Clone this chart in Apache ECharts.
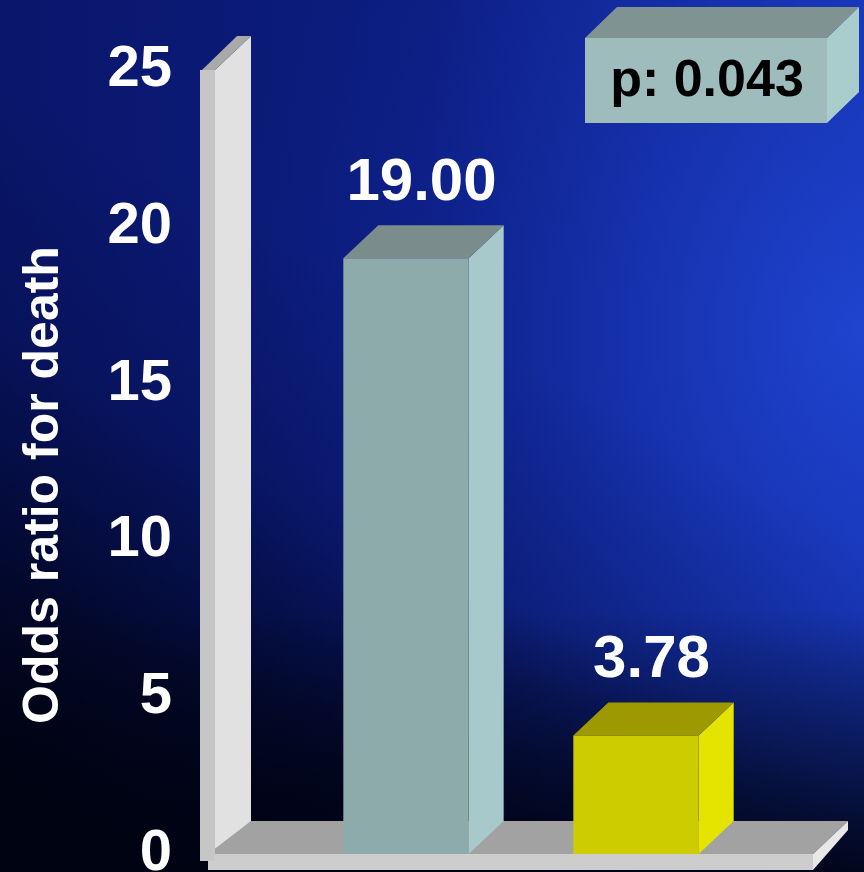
<!DOCTYPE html>
<html>
<head>
<meta charset="utf-8">
<title>Odds ratio for death</title>
<script src="https://cdn.jsdelivr.net/npm/echarts@6.0.0/dist/echarts.min.js"></script>
<style>
  html, body { margin: 0; padding: 0; background: #000; }
  #chart { width: 864px; height: 872px; }
</style>
</head>
<body>
<div id="chart"></div>
<script>
// ---- data ----
const categories = ['Group 1', 'Group 2'];
const oddsRatios = [19.00, 3.78];
const yTicks = [0, 5, 10, 15, 20, 25];
const yTitle = 'Odds ratio for death';
const pValueText = 'p: 0.043';

// ---- styling ----
const FONT = '"Liberation Sans", Arial, Helvetica, sans-serif';
const DEPTH = [35, -33];               // 3D offset of the back faces
const barFaces = [
  { front: '#8eabab', side: '#a8c9cb', top: '#7a8d8c' },
  { front: '#cccc00', side: '#e4e400', top: '#9c9a00' }
];

const chart = echarts.init(document.getElementById('chart'));

// walls and floor of the 3D plot area, tied to the value axis extent
function renderFrame(params, api) {
  const yMax = yTicks[yTicks.length - 1];
  const y0 = api.coord([0, 0])[1];
  const yTop = api.coord([0, yMax])[1];
  const gx = params.coordSys.x;
  const gr = params.coordSys.x + params.coordSys.width;
  const [dx, dy] = DEPTH;
  const wallL = gx - 91, wallM = gx - 76, wallR = wallM + dx + 1;
  const floorL = gx - 83, floorR = gr + 62;
  const floorBottom = y0 + 16;
  return {
    type: 'group',
    children: [
      // wall side face
      { type: 'polygon', shape: { points: [[wallM, yTop], [wallR, yTop + dy - 1], [wallR, y0 + dy + 8], [wallM, y0 + 6]] },
        style: { fill: '#e1e1e1' } },
      // floor top surface
      { type: 'polygon', shape: { points: [[floorL, y0], [floorR, y0], [floorR + dx, y0 + dy], [wallR, y0 + dy]] },
        style: { fill: '#a2a2a2' } },
      // floor front face
      { type: 'rect', shape: { x: floorL, y: y0, width: floorR - floorL, height: floorBottom - y0 },
        style: { fill: '#cdcdcd' } },
      // floor right face
      { type: 'polygon', shape: { points: [[floorR, y0], [floorR + dx, y0 + dy], [floorR + dx, y0 + dy + 9], [floorR, floorBottom]] },
        style: { fill: '#e8e8e8' } },
      // wall top cap
      { type: 'polygon', shape: { points: [[wallL + 2, yTop], [wallM, yTop], [wallR, yTop + dy - 1], [wallR - 14, yTop + dy - 1]] },
        style: { fill: '#a9a9a9' } },
      // wall front edge
      { type: 'rect', shape: { x: wallL, y: yTop, width: wallM - wallL, height: y0 + 7 - yTop },
        style: { fill: '#c6c6c6' } }
    ]
  };
}

// one 3D box per category, height from the value axis
function renderBar(params, api) {
  const idx = api.value(0);
  const val = api.value(1);
  const top = api.coord([idx, val]);
  const base = api.coord([idx, 0]);
  const w = api.size([1, 0])[0] * 0.545;
  const x0 = top[0] - w / 2, x1 = top[0] + w / 2;
  const yt = top[1], yb = base[1];
  const [dx, dy] = DEPTH;
  const c = barFaces[params.dataIndex];
  return {
    type: 'group',
    children: [
      { type: 'polygon', shape: { points: [[x1, yt], [x1 + dx, yt + dy], [x1 + dx, yb + dy], [x1, yb]] },
        style: { fill: c.side } },
      { type: 'polygon', shape: { points: [[x0, yt], [x1, yt], [x1 + dx, yt + dy], [x0 + dx, yt + dy]] },
        style: { fill: c.top } },
      { type: 'rect', shape: { x: x0, y: yt, width: w, height: yb - yt },
        style: { fill: c.front } },
      { type: 'text',
        style: { text: val.toFixed(2), x: top[0] + dx / 2 - 2, y: yt + dy - 42,
                 fill: '#ffffff', font: 'bold 60px ' + FONT,
                 align: 'center', verticalAlign: 'middle',
                 textAlign: 'center', textVerticalAlign: 'middle' } }
    ]
  };
}

const option = {
  animation: false,
  backgroundColor: {
    type: 'linear', x: 0, y: 0, x2: 1, y2: 0,
    colorStops: [
      { offset: 0, color: '#09166a' },
      { offset: 0.5, color: '#0c1d80' },
      { offset: 1, color: '#1838b8' }
    ]
  },
  graphic: [
    // bright glow at the right edge
    { type: 'rect', z: -10, silent: true,
      shape: { x: 0, y: 0, width: 864, height: 872 },
      style: { fill: { type: 'radial', x: 1.0, y: 0.38, r: 0.75,
        colorStops: [
          { offset: 0, color: 'rgba(34,72,215,0.75)' },
          { offset: 0.5, color: 'rgba(25,55,190,0.3)' },
          { offset: 1, color: 'rgba(20,40,160,0)' }
        ] } } },
    // darkening towards the lower left
    { type: 'rect', z: -9, silent: true,
      shape: { x: 0, y: 0, width: 864, height: 872 },
      style: { fill: { type: 'linear', x: 0.15, y: 1, x2: 0.5, y2: 0.35,
        colorStops: [
          { offset: 0, color: 'rgba(0,2,12,0.98)' },
          { offset: 0.3, color: 'rgba(0,3,20,0.75)' },
          { offset: 0.65, color: 'rgba(0,5,30,0.2)' },
          { offset: 1, color: 'rgba(0,5,30,0)' }
        ] } } },
    // darkening along the bottom edge
    { type: 'rect', z: -8, silent: true,
      shape: { x: 0, y: 0, width: 864, height: 872 },
      style: { fill: { type: 'linear', x: 0, y: 0, x2: 0, y2: 1,
        colorStops: [
          { offset: 0, color: 'rgba(0,3,18,0)' },
          { offset: 0.7, color: 'rgba(0,3,18,0)' },
          { offset: 0.88, color: 'rgba(0,3,18,0.55)' },
          { offset: 1, color: 'rgba(0,3,18,0.9)' }
        ] } } },
    // p-value box
    { type: 'group', z: 10, children: [
      { type: 'polygon', shape: { points: [[585, 38], [827, 38], [859, 7], [617, 7]] }, style: { fill: '#7f9393' } },
      { type: 'polygon', shape: { points: [[827, 38], [859, 7], [859, 92], [827, 123]] }, style: { fill: '#a9cccc' } },
      { type: 'rect', shape: { x: 585, y: 38, width: 242, height: 85 }, style: { fill: '#9fbcbc' } },
      { type: 'text', style: { text: pValueText, x: 707, y: 82, fill: '#000000',
          font: 'bold 52px ' + FONT, align: 'center', verticalAlign: 'middle',
          textAlign: 'center', textVerticalAlign: 'middle' } }
    ] }
  ],
  grid: { left: 291, right: 113, top: 70, bottom: 18, outerBoundsMode: 'none', containLabel: false },
  xAxis: {
    type: 'category',
    data: categories,
    boundaryGap: true,
    axisLine: { show: false }, axisTick: { show: false }, axisLabel: { show: false },
    splitLine: { show: false }
  },
  yAxis: {
    type: 'value',
    min: yTicks[0], max: yTicks[yTicks.length - 1], interval: yTicks[1] - yTicks[0],
    name: yTitle,
    nameLocation: 'middle',
    nameRotate: 90,
    nameGap: 222,
    nameTextStyle: { color: '#ffffff', fontSize: 50, fontWeight: 'bold', fontFamily: FONT,
                     padding: [0, 46, 0, 0] },
    axisLine: { show: false }, axisTick: { show: false }, splitLine: { show: false },
    axisLabel: { color: '#ffffff', fontSize: 58, fontWeight: 'bold', fontFamily: FONT, margin: 119 }
  },
  series: [
    { type: 'custom', name: 'frame', z: 1, silent: true,
      renderItem: renderFrame, data: [[0, 0]], encode: { x: 0, y: 1 } },
    { type: 'custom', name: yTitle, z: 3, silent: true,
      renderItem: renderBar,
      data: oddsRatios.map((v, i) => [i, v]),
      encode: { x: 0, y: 1 } }
  ]
};

chart.setOption(option);
</script>
</body>
</html>
